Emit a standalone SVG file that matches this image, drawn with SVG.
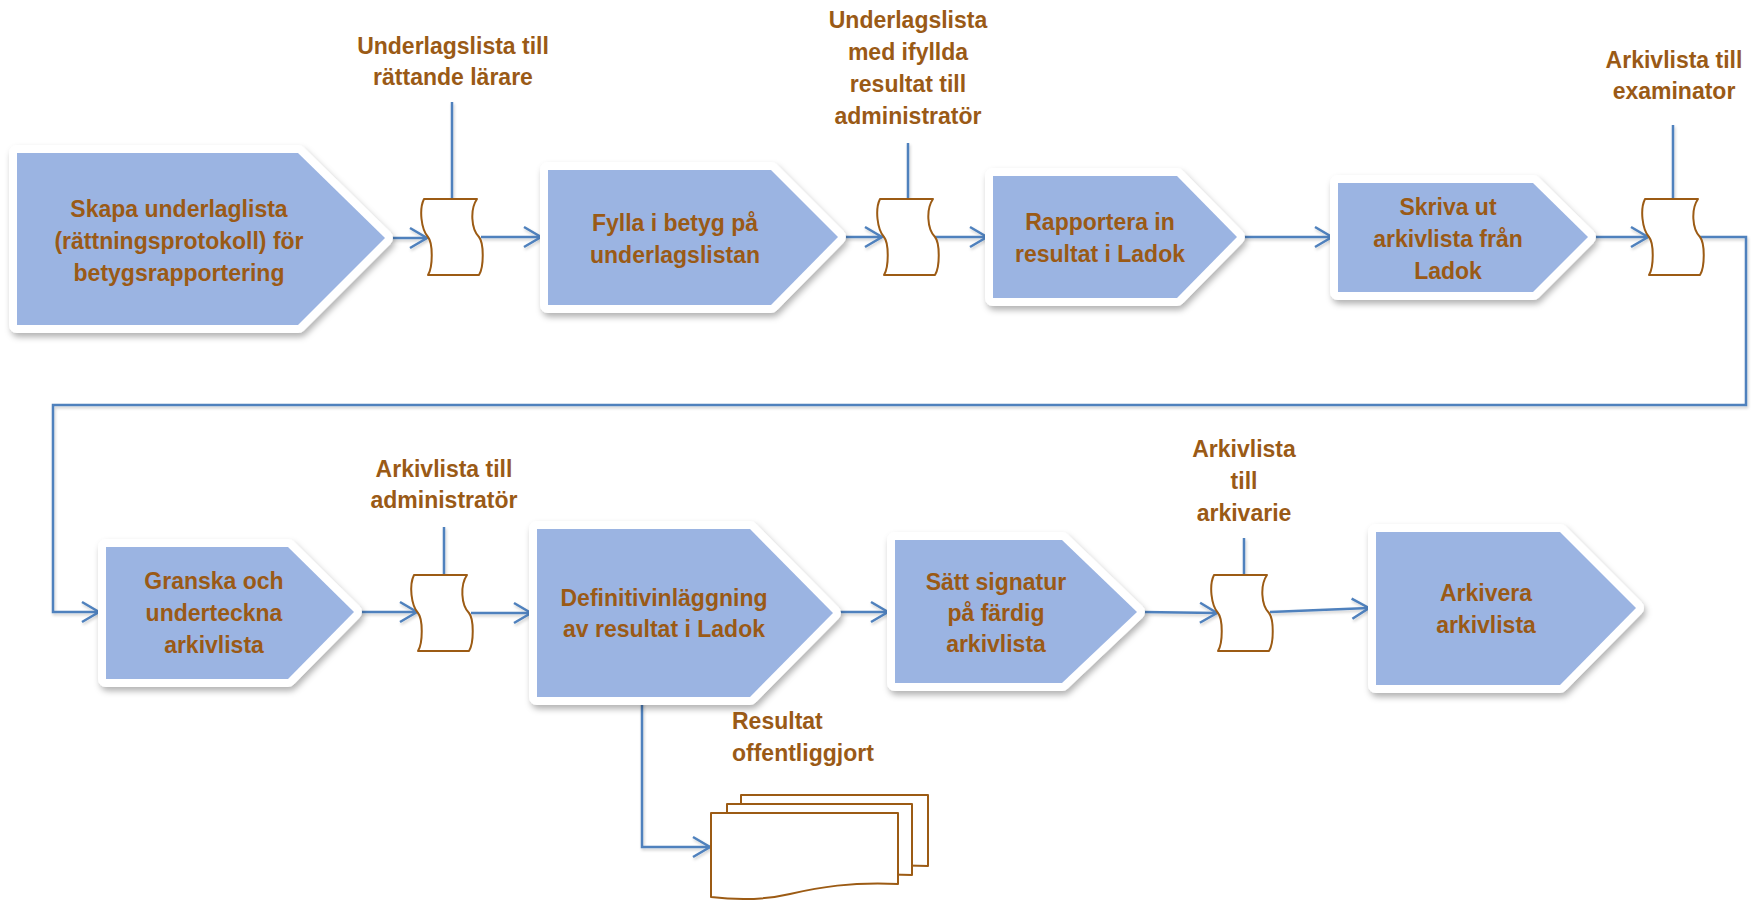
<svg xmlns="http://www.w3.org/2000/svg" xmlns:xlink="http://www.w3.org/1999/xlink" width="1753" height="901" viewBox="0 0 1753 901">
<defs>
<style>
.node-bg{fill:#ffffff;stroke:#ffffff;stroke-width:16;stroke-linejoin:round;filter:url(#shadow);}
.node{fill:#9BB4E2;}
.nt{font-family:"Liberation Sans",Arial,sans-serif;font-weight:bold;font-size:23px;fill:#9A5A16;text-anchor:middle;}
.lbl{font-family:"Liberation Sans",Arial,sans-serif;font-weight:bold;font-size:23px;fill:#9A5A16;text-anchor:middle;}
.conn{fill:none;stroke:#4F81BD;stroke-width:2.5;}
.doc{fill:#ffffff;stroke:#9C5B14;stroke-width:2;stroke-linejoin:round;}
</style>
<filter id="shadow" x="-10%" y="-10%" width="125%" height="130%">
<feDropShadow dx="2" dy="4" stdDeviation="3" flood-color="#000000" flood-opacity="0.3"/>
</filter>
<filter id="lshadow" x="-5%" y="-5%" width="110%" height="110%">
<feDropShadow dx="1" dy="2" stdDeviation="1.5" flood-color="#000000" flood-opacity="0.2"/>
</filter>
<marker id="arr" markerUnits="userSpaceOnUse" markerWidth="24" markerHeight="24" viewBox="-20 -12 24 24" refX="0" refY="0" orient="auto">
<path d="M-17,-10 L0,0 L-17,10" fill="none" stroke="#4F81BD" stroke-width="2.5"/>
</marker>
<path id="tape" d="M0,0 L53,0 C46,10 47,30 55,38 C60,44 60,68 55,76 L4,76 C9,68 9,44 4,38 C-3,30 -5,10 0,0 Z"/>
</defs>

<g id="connectors" filter="url(#lshadow)">
<path class="conn" d="M390,238 L427,238" marker-end="url(#arr)"/>
<path class="conn" d="M452,199 L452,102"/>
<path class="conn" d="M481,237 L541,237" marker-end="url(#arr)"/>
<path class="conn" d="M842,237 L882,237" marker-end="url(#arr)"/>
<path class="conn" d="M908,199 L908,143"/>
<path class="conn" d="M935,237 L987,237" marker-end="url(#arr)"/>
<path class="conn" d="M1241,237 L1332,237" marker-end="url(#arr)"/>
<path class="conn" d="M1592,237 L1648,237" marker-end="url(#arr)"/>
<path class="conn" d="M1673,199 L1673,125"/>
<path class="conn" d="M1700,237 L1746,237 L1746,405 L53,405 L53,612 L99,612" marker-end="url(#arr)"/>
<path class="conn" d="M358,612 L417,612" marker-end="url(#arr)"/>
<path class="conn" d="M444,575 L444,527"/>
<path class="conn" d="M471,613 L531,613" marker-end="url(#arr)"/>
<path class="conn" d="M838,612 L888,612" marker-end="url(#arr)"/>
<path class="conn" d="M642,702 L642,847 L710,847" marker-end="url(#arr)"/>
<path class="conn" d="M1142,612 L1217,613" marker-end="url(#arr)"/>
<path class="conn" d="M1244,575 L1244,538"/>
<path class="conn" d="M1270,612 L1369,608" marker-end="url(#arr)"/>
</g>

<g id="node1">
<polygon class="node-bg" points="17,153 298,153 385,238 298,325 17,325"/>
<polygon class="node" points="17,153 298,153 385,238 298,325 17,325"/>
<text class="nt" x="179" y="217">Skapa underlaglista</text>
<text class="nt" x="179" y="249">(rättningsprotokoll) för</text>
<text class="nt" x="179" y="281">betygsrapportering</text>
</g>

<g id="doc1">
<use href="#tape" class="doc" transform="translate(424,199)"/>
<text class="lbl" x="453" y="54">Underlagslista till</text>
<text class="lbl" x="453" y="85">rättande lärare</text>
</g>

<g id="node2">
<polygon class="node-bg" points="548,170 771,170 838,237 771,305 548,305"/>
<polygon class="node" points="548,170 771,170 838,237 771,305 548,305"/>
<text class="nt" x="675" y="231">Fylla i betyg på</text>
<text class="nt" x="675" y="263">underlagslistan</text>
</g>

<g id="doc2">
<use href="#tape" class="doc" transform="translate(880,199)"/>
<text class="lbl" x="908" y="28">Underlagslista</text>
<text class="lbl" x="908" y="60">med ifyllda</text>
<text class="lbl" x="908" y="92">resultat till</text>
<text class="lbl" x="908" y="124">administratör</text>
</g>

<g id="node3">
<polygon class="node-bg" points="993,176 1177,176 1237,237 1177,298 993,298"/>
<polygon class="node" points="993,176 1177,176 1237,237 1177,298 993,298"/>
<text class="nt" x="1100" y="230">Rapportera in</text>
<text class="nt" x="1100" y="262">resultat i Ladok</text>
</g>

<g id="node4">
<polygon class="node-bg" points="1338,183 1533,183 1588,237 1533,292 1338,292"/>
<polygon class="node" points="1338,183 1533,183 1588,237 1533,292 1338,292"/>
<text class="nt" x="1448" y="215">Skriva ut</text>
<text class="nt" x="1448" y="247">arkivlista från</text>
<text class="nt" x="1448" y="279">Ladok</text>
</g>

<g id="doc3">
<use href="#tape" class="doc" transform="translate(1645,199)"/>
<text class="lbl" x="1674" y="68">Arkivlista till</text>
<text class="lbl" x="1674" y="99">examinator</text>
</g>

<g id="node5">
<polygon class="node-bg" points="106,547 288,547 354,612 288,679 106,679"/>
<polygon class="node" points="106,547 288,547 354,612 288,679 106,679"/>
<text class="nt" x="214" y="589">Granska och</text>
<text class="nt" x="214" y="621">underteckna</text>
<text class="nt" x="214" y="653">arkivlista</text>
</g>

<g id="doc4">
<use href="#tape" class="doc" transform="translate(414,575)"/>
<text class="lbl" x="444" y="477">Arkivlista till</text>
<text class="lbl" x="444" y="508">administratör</text>
</g>

<g id="node6">
<polygon class="node-bg" points="537,529 750,529 833,613 750,697 537,697"/>
<polygon class="node" points="537,529 750,529 833,613 750,697 537,697"/>
<text class="nt" x="664" y="606">Definitivinläggning</text>
<text class="nt" x="664" y="637">av resultat i Ladok</text>
</g>

<g id="multidoc">
<path class="doc" d="M741,795 H928 V866 C880,864 850,869 820,876 C790,883 765,882 741,879 Z"/>
<path class="doc" d="M727,804 H912 V875 C864,873 834,878 804,885 C774,892 751,891 727,888 Z"/>
<path class="doc" d="M711,813 H898 V884 C850,882 820,887 790,894 C760,901 735,900 711,897 Z"/>
<text class="lbl" x="732" y="729" style="text-anchor:start">Resultat</text>
<text class="lbl" x="732" y="761" style="text-anchor:start">offentliggjort</text>
</g>

<g id="node7">
<polygon class="node-bg" points="895,540 1062,540 1137,612 1062,683 895,683"/>
<polygon class="node" points="895,540 1062,540 1137,612 1062,683 895,683"/>
<text class="nt" x="996" y="590">Sätt signatur</text>
<text class="nt" x="996" y="621">på färdig</text>
<text class="nt" x="996" y="652">arkivlista</text>
</g>

<g id="doc5">
<use href="#tape" class="doc" transform="translate(1214,575)"/>
<text class="lbl" x="1244" y="457">Arkivlista</text>
<text class="lbl" x="1244" y="489">till</text>
<text class="lbl" x="1244" y="521">arkivarie</text>
</g>

<g id="node8">
<polygon class="node-bg" points="1376,532 1560,532 1636,608 1560,685 1376,685"/>
<polygon class="node" points="1376,532 1560,532 1636,608 1560,685 1376,685"/>
<text class="nt" x="1486" y="601">Arkivera</text>
<text class="nt" x="1486" y="633">arkivlista</text>
</g>
</svg>
